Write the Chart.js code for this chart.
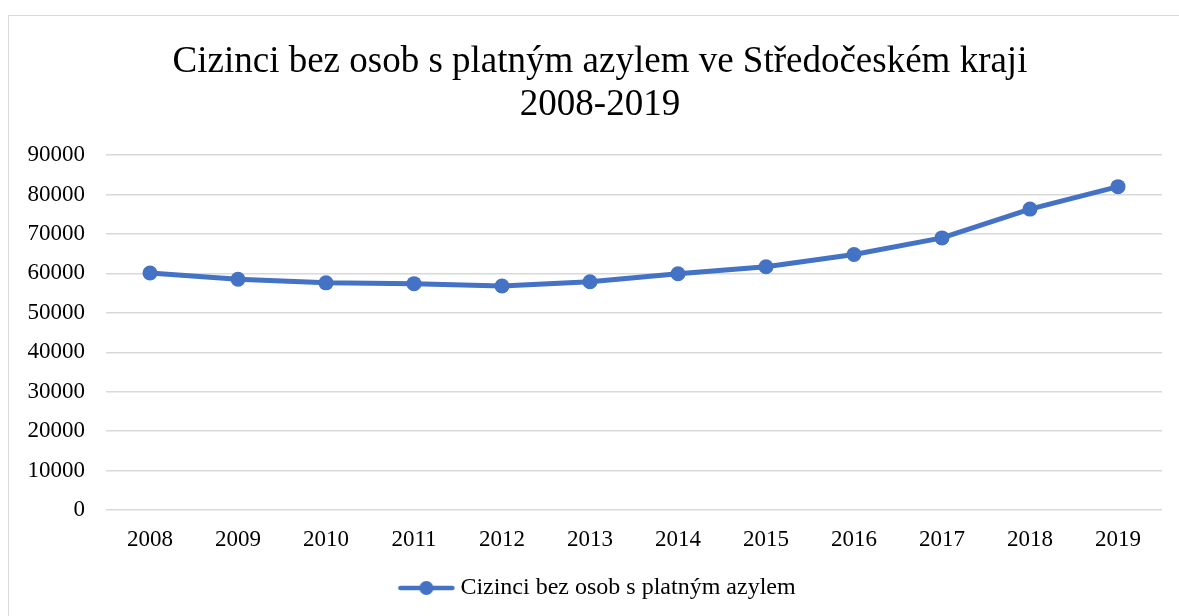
<!DOCTYPE html>
<html>
<head>
<meta charset="utf-8">
<script src="https://cdn.jsdelivr.net/npm/chart.js@4.4.1/dist/chart.umd.min.js"></script>
<style>
  html, body { margin: 0; padding: 0; background: #fff; overflow: hidden; }
  .frame { position: absolute; left: 8px; top: 15px; width: 1300px; height: 700px; border: 1.5px solid #d9d9d9; }
  .wrap { position: absolute; left: 0; top: 0; width: 1200px; height: 616px; }
</style>
</head>
<body>
<div class="frame"></div>
<div class="wrap"><canvas id="chart"></canvas></div>
<script>
// data
const years = ['2008', '2009', '2010', '2011', '2012', '2013', '2014', '2015', '2016', '2017', '2018', '2019'];
const foreigners = [60100, 58500, 57600, 57400, 56800, 57900, 59900, 61700, 64800, 69000, 76300, 82000];
const seriesName = 'Cizinci bez osob s platným azylem';
const titleLines = ['Cizinci bez osob s platným azylem ve Středočeském kraji', '2008-2019'];

const blue = '#4472C4';
const serif = "'Liberation Serif', 'Times New Roman', serif";

// little line-with-dot marker for the legend
const marker = document.createElement('canvas');
marker.width = 58;
marker.height = 16;
const mctx = marker.getContext('2d');
mctx.strokeStyle = blue;
mctx.lineWidth = 4.5;
mctx.lineCap = 'round';
mctx.beginPath();
mctx.moveTo(3, 8);
mctx.lineTo(55, 8);
mctx.stroke();
mctx.fillStyle = blue;
mctx.beginPath();
mctx.arc(29, 8, 7, 0, Math.PI * 2);
mctx.fill();

const data = {
  labels: years,
  datasets: [
    {
      label: seriesName,
      data: foreigners,
      borderColor: blue,
      backgroundColor: blue,
      borderWidth: 5,
      pointStyle: 'circle',
      pointRadius: 7.5,
      pointHoverRadius: 7.5,
      pointBackgroundColor: blue,
      pointBorderWidth: 0,
      tension: 0,
    },
  ],
};

new Chart(document.getElementById('chart'), {
  type: 'line',
  data: data,
  options: {
    responsive: true,
    maintainAspectRatio: false,
    animation: false,
    layout: { padding: { left: 0, right: 0, top: 15, bottom: 6 } },
    plugins: {
      title: {
        display: true,
        text: titleLines,
        color: '#000',
        font: { family: serif, size: 37, weight: 'normal', lineHeight: 1.15 },
        padding: { top: 26, bottom: 29 },
      },
      legend: {
        position: 'bottom',
        labels: {
          color: '#000',
          font: { family: serif, size: 24 },
          usePointStyle: true,
          pointStyleWidth: 44,
          padding: 10,
          generateLabels: (chart) => chart.data.datasets.map((ds, i) => ({
            text: ds.label,
            fillStyle: blue,
            strokeStyle: blue,
            lineWidth: 0,
            pointStyle: marker,
            datasetIndex: i,
          })),
        },
      },
      tooltip: { enabled: false },
    },
    scales: {
      x: {
        offset: true,
        grid: { display: false, drawTicks: false },
        border: { display: false },
        ticks: { color: '#000', font: { family: serif, size: 23 }, padding: 16, maxRotation: 0 },
        afterFit: (scale) => { scale.height = 56; },
      },
      y: {
        min: 0,
        max: 90000,
        grid: { color: '#d9d9d9', lineWidth: 1.5, drawTicks: false },
        border: { display: false },
        ticks: {
          stepSize: 10000,
          color: '#000',
          font: { family: serif, size: 23 },
          padding: 21,
          callback: (v) => String(v),
        },
        afterFit: (scale) => { scale.width = 106; },
      },
      // empty right-hand axis, only keeps the plot away from the right edge
      yRight: {
        position: 'right',
        grid: { display: false, drawTicks: false },
        border: { display: false },
        ticks: { display: false },
        afterFit: (scale) => { scale.width = 38; },
      },
    },
  },
});
</script>
</body>
</html>
